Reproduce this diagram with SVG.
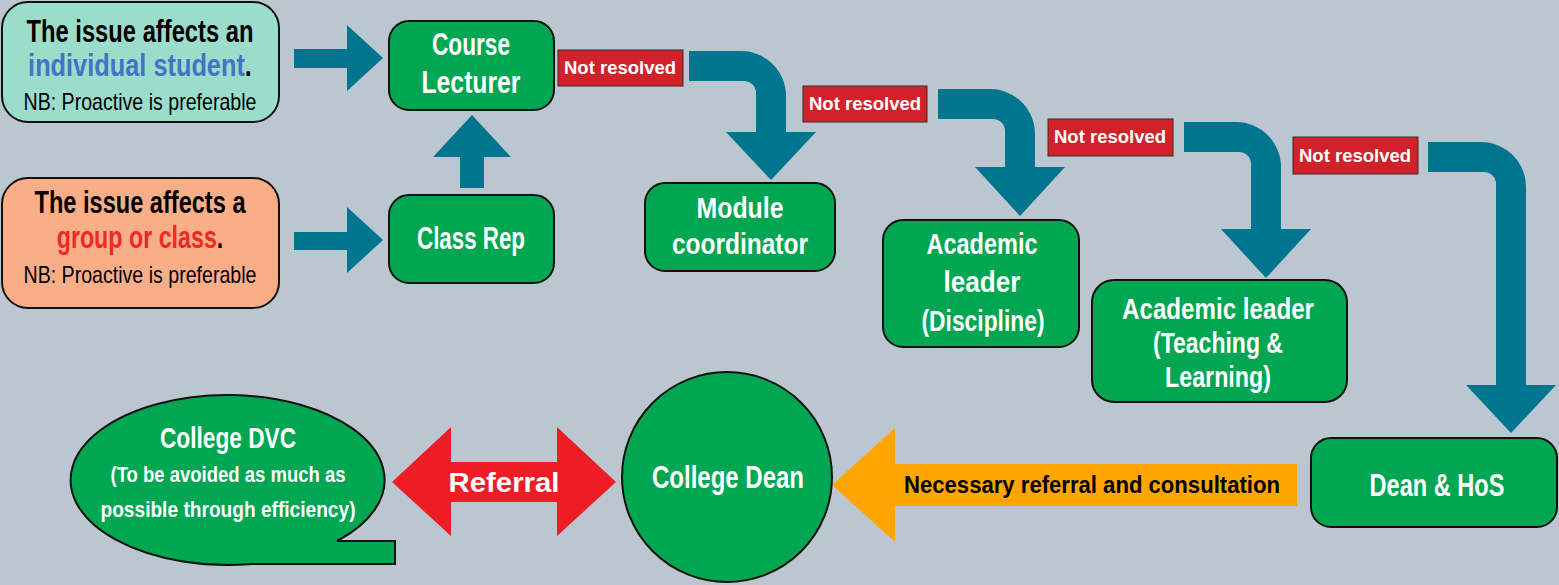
<svg xmlns="http://www.w3.org/2000/svg" width="1559" height="585" viewBox="0 0 1559 585">
<style>
.bg{fill:#BBC7D0}
.node{fill:#00A651;stroke:#111;stroke-width:2}
.t{font-family:"Liberation Sans Narrow","Liberation Sans",Arial,sans-serif;font-weight:bold;text-anchor:middle}
.w{fill:#fff}
.k{fill:#000}
.nb{font-family:"Liberation Sans Narrow","Liberation Sans",Arial,sans-serif;font-weight:normal;text-anchor:middle;font-size:24px;fill:#000}
.flow{fill:#00758F}
.lbl{fill:#D1222B;stroke:#3a2a2a;stroke-width:1}
.lt{font-family:"Liberation Sans",Arial,sans-serif;font-weight:bold;font-size:18px;fill:#fff;text-anchor:middle}
</style>
<rect class="bg" x="0" y="0" width="1559" height="585"/>

<g id="connectors">
  <polygon class="flow" points="294,49 347,49 347,25 383,58 347,91 347,68 294,68"/>
  <polygon class="flow" points="294,232 347,232 347,207 383,240 347,273 347,250 294,250"/>
  <polygon class="flow" points="460,188 460,157 433,157 472,115 511,157 484,157 484,188"/>
  <path class="flow" d="M689,51 H741 A45,45 0 0 1 786,96 V132 H816 L771,180 L726,132 H756 V93 A12,12 0 0 0 744,81 H689 Z"/>
  <path class="flow" d="M938,89 H990 A45,45 0 0 1 1035,134 V167 H1065 L1020,216 L975,167 H1005 V131 A12,12 0 0 0 993,119 H938 Z"/>
  <path class="flow" d="M1184,122 H1236 A45,45 0 0 1 1281,167 V229 H1311 L1266,278 L1221,229 H1251 V164 A12,12 0 0 0 1239,152 H1184 Z"/>
  <path class="flow" d="M1428,142 H1481 A45,45 0 0 1 1526,187 V385 H1556 L1511,433 L1466,385 H1496 V184 A12,12 0 0 0 1484,172 H1428 Z"/>
  <polygon fill="#FFA600" points="832,485 895,428 895,464 1297,464 1297,506 895,506 895,542"/>
  <text class="t k" x="1092" y="493" font-size="23" textLength="376" lengthAdjust="spacingAndGlyphs">Necessary referral and consultation</text>
  <polygon fill="#EE1C24" points="392,482 451,427 451,462 557,462 557,427 616,482 557,536 557,502 451,502 451,536"/>
  <text x="504" y="492" font-family="'Liberation Sans',Arial,sans-serif" font-weight="bold" font-size="27" fill="#fff" text-anchor="middle" textLength="111" lengthAdjust="spacingAndGlyphs">Referral</text>
  <g id="labels">
    <rect class="lbl" x="558" y="50" width="125" height="36"/>
    <text class="lt" x="620" y="74" textLength="112" lengthAdjust="spacingAndGlyphs">Not resolved</text>
    <rect class="lbl" x="803" y="86" width="124" height="36"/>
    <text class="lt" x="865" y="110" textLength="112" lengthAdjust="spacingAndGlyphs">Not resolved</text>
    <rect class="lbl" x="1048" y="119" width="125" height="37"/>
    <text class="lt" x="1110" y="143" textLength="112" lengthAdjust="spacingAndGlyphs">Not resolved</text>
    <rect class="lbl" x="1293" y="137" width="125" height="37"/>
    <text class="lt" x="1355" y="162" textLength="112" lengthAdjust="spacingAndGlyphs">Not resolved</text>
  </g>
</g>

<g id="individual">
  <rect x="2" y="2" width="277" height="120" rx="26" fill="#9BDDCB" stroke="#111" stroke-width="2"/>
  <text class="t k" x="140" y="42" font-size="31" textLength="227" lengthAdjust="spacingAndGlyphs">The issue affects an</text>
  <text class="t" transform="translate(140,76) scale(0.818,1)" x="0" y="0" font-size="31"><tspan fill="#4472C4">individual student</tspan><tspan fill="#000">.</tspan></text>
  <text class="nb" x="140" y="110" textLength="233" lengthAdjust="spacingAndGlyphs">NB: Proactive is preferable</text>
</g>

<g id="group">
  <rect x="2" y="178" width="277" height="130" rx="26" fill="#F9AE88" stroke="#111" stroke-width="2"/>
  <text class="t k" x="140" y="213" font-size="31" textLength="211" lengthAdjust="spacingAndGlyphs">The issue affects a</text>
  <text class="t" transform="translate(140,248) scale(0.75,1)" x="0" y="0" font-size="31"><tspan fill="#EE2A24">group or class</tspan><tspan fill="#000">.</tspan></text>
  <text class="nb" x="140" y="283" textLength="233" lengthAdjust="spacingAndGlyphs">NB: Proactive is preferable</text>
</g>

<g id="course-lecturer">
  <rect class="node" x="389" y="21" width="165" height="89" rx="20"/>
  <text class="t w" x="471" y="55" font-size="31" textLength="78" lengthAdjust="spacingAndGlyphs">Course</text>
  <text class="t w" x="471" y="93" font-size="31" textLength="99" lengthAdjust="spacingAndGlyphs">Lecturer</text>
</g>

<g id="class-rep">
  <rect class="node" x="389" y="195" width="165" height="88" rx="20"/>
  <text class="t w" x="471" y="249" font-size="31" textLength="108" lengthAdjust="spacingAndGlyphs">Class Rep</text>
</g>

<g id="module-coordinator">
  <rect class="node" x="645" y="183" width="190" height="88" rx="20"/>
  <text class="t w" x="740" y="218" font-size="30" textLength="87" lengthAdjust="spacingAndGlyphs">Module</text>
  <text class="t w" x="740" y="254" font-size="30" textLength="136" lengthAdjust="spacingAndGlyphs">coordinator</text>
</g>

<g id="academic-discipline">
  <rect class="node" x="883" y="220" width="196" height="127" rx="20"/>
  <text class="t w" x="982" y="254" font-size="30" textLength="111" lengthAdjust="spacingAndGlyphs">Academic</text>
  <text class="t w" x="982" y="292" font-size="30" textLength="77" lengthAdjust="spacingAndGlyphs">leader</text>
  <text class="t w" x="983" y="331" font-size="30" textLength="123" lengthAdjust="spacingAndGlyphs">(Discipline)</text>
</g>

<g id="academic-tl">
  <rect class="node" x="1092" y="280" width="255" height="122" rx="22"/>
  <text class="t w" x="1218" y="319" font-size="29" textLength="192" lengthAdjust="spacingAndGlyphs">Academic leader</text>
  <text class="t w" x="1218" y="353" font-size="29" textLength="130" lengthAdjust="spacingAndGlyphs">(Teaching &amp;</text>
  <text class="t w" x="1218" y="387" font-size="29" textLength="106" lengthAdjust="spacingAndGlyphs">Learning)</text>
</g>

<g id="dean-hos">
  <rect class="node" x="1311" y="438" width="246" height="89" rx="20"/>
  <text class="t w" x="1437" y="496" font-size="31" textLength="135" lengthAdjust="spacingAndGlyphs">Dean &amp; HoS</text>
</g>

<g id="college-dean">
  <circle class="node" cx="727" cy="477" r="105"/>
  <text class="t w" x="728" y="488" font-size="31" textLength="152" lengthAdjust="spacingAndGlyphs">College Dean</text>
</g>

<g id="college-dvc">
  <path class="node" d="M337,541 A157,85 0 1 0 252,564 L395,564 L395,541 Z"/>
  <text class="t w" x="228" y="448" font-size="30" textLength="136" lengthAdjust="spacingAndGlyphs">College DVC</text>
  <text class="t w" x="228" y="482" font-size="22" textLength="235" lengthAdjust="spacingAndGlyphs">(To be avoided as much as</text>
  <text class="t w" x="228" y="517" font-size="22" textLength="255" lengthAdjust="spacingAndGlyphs">possible through efficiency)</text>
</g>
</svg>
